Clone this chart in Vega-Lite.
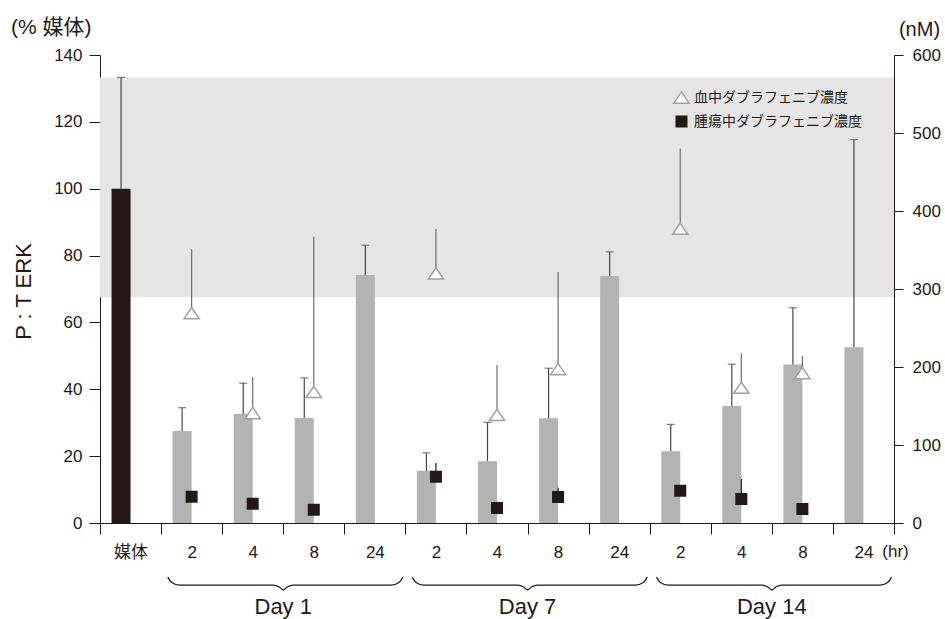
{
  "$schema": "https://vega.github.io/schema/vega-lite/v6.json",
  "width": 794,
  "height": 468,
  "autosize": {"type": "none"},
  "padding": {"left": 100, "top": 55, "right": 51, "bottom": 96},
  "background": "white",
  "title": {
    "text": "(% 媒体)",
    "anchor": "start",
    "frame": "group",
    "dx": -89,
    "dy": 37,
    "offset": 18,
    "fontSize": 21,
    "fontWeight": "normal",
    "color": "#231815"
  },
  "config": {
    "font": "Liberation Sans, Noto Sans CJK JP",
    "view": {"stroke": null},
    "axis": {
      "zindex": 1,
      "grid": false,
      "domainColor": "#231815",
      "tickColor": "#231815",
      "labelColor": "#231815",
      "titleColor": "#231815",
      "domainWidth": 1,
      "tickWidth": 1,
      "labelFontSize": 17,
      "titleFontWeight": "normal"
    },
    "legend": {
      "padding": 0,
      "rowPadding": 6,
      "labelOffset": 4,
      "labelLimit": 400,
      "labelFont": "Noto Sans CJK JP",
      "labelFontSize": 14,
      "labelColor": "#231815",
      "symbolStrokeWidth": 1.5,
      "symbolSize": 232
    }
  },
  "datasets": {
    "ptErk": [
      {"idx": 0, "cond": "媒体", "mean": 100, "upper": 133.3},
      {"idx": 1, "cond": "Day 1 2hr", "mean": 27.5, "upper": 34.5},
      {"idx": 2, "cond": "Day 1 4hr", "mean": 32.6, "upper": 41.8},
      {"idx": 3, "cond": "Day 1 8hr", "mean": 31.4, "upper": 43.4},
      {"idx": 4, "cond": "Day 1 24hr", "mean": 74.2, "upper": 83.1},
      {"idx": 5, "cond": "Day 7 2hr", "mean": 15.6, "upper": 21.0},
      {"idx": 6, "cond": "Day 7 4hr", "mean": 18.5, "upper": 30.1},
      {"idx": 7, "cond": "Day 7 8hr", "mean": 31.3, "upper": 46.3},
      {"idx": 8, "cond": "Day 7 24hr", "mean": 73.9, "upper": 81.1},
      {"idx": 9, "cond": "Day 14 2hr", "mean": 21.5, "upper": 29.5},
      {"idx": 10, "cond": "Day 14 4hr", "mean": 35.0, "upper": 47.5},
      {"idx": 11, "cond": "Day 14 8hr", "mean": 47.4, "upper": 64.4},
      {"idx": 12, "cond": "Day 14 24hr", "mean": 52.6, "upper": 114.7}
    ],
    "vehicleRange": [
      {"lo": 67.5, "hi": 133.3}
    ],
    "conc": [
      {"idx": 1, "series": "血中ダブラフェニブ濃度", "value": 269, "upper": 351},
      {"idx": 2, "series": "血中ダブラフェニブ濃度", "value": 141, "upper": 187},
      {"idx": 3, "series": "血中ダブラフェニブ濃度", "value": 168, "upper": 367},
      {"idx": 5, "series": "血中ダブラフェニブ濃度", "value": 320, "upper": 377},
      {"idx": 6, "series": "血中ダブラフェニブ濃度", "value": 138.5, "upper": 202.6},
      {"idx": 7, "series": "血中ダブラフェニブ濃度", "value": 197.4, "upper": 321.8},
      {"idx": 9, "series": "血中ダブラフェニブ濃度", "value": 377.3, "upper": 480},
      {"idx": 10, "series": "血中ダブラフェニブ濃度", "value": 173.5, "upper": 217.5},
      {"idx": 11, "series": "血中ダブラフェニブ濃度", "value": 192.3, "upper": 214},
      {"idx": 1, "series": "腫瘍中ダブラフェニブ濃度", "value": 33.7, "upper": null},
      {"idx": 2, "series": "腫瘍中ダブラフェニブ濃度", "value": 24.8, "upper": null},
      {"idx": 3, "series": "腫瘍中ダブラフェニブ濃度", "value": 17.1, "upper": null},
      {"idx": 5, "series": "腫瘍中ダブラフェニブ濃度", "value": 59.4, "upper": 76.9},
      {"idx": 6, "series": "腫瘍中ダブラフェニブ濃度", "value": 19.2, "upper": null},
      {"idx": 7, "series": "腫瘍中ダブラフェニブ濃度", "value": 33.3, "upper": 45.3},
      {"idx": 9, "series": "腫瘍中ダブラフェニブ濃度", "value": 41.4, "upper": null},
      {"idx": 10, "series": "腫瘍中ダブラフェニブ濃度", "value": 30.8, "upper": 56.4},
      {"idx": 11, "series": "腫瘍中ダブラフェニブ濃度", "value": 17.9, "upper": null}
    ],
    "braces": [
      {"day": "Day 1", "bx": 1.11, "by": -16.2},
      {"day": "Day 1", "bx": 1.175, "by": -17.8},
      {"day": "Day 1", "bx": 1.305, "by": -18.6},
      {"day": "Day 1", "bx": 2.836, "by": -18.6},
      {"day": "Day 1", "bx": 2.935, "by": -19.15},
      {"day": "Day 1", "bx": 3, "by": -20.05},
      {"day": "Day 1", "bx": 3.065, "by": -19.15},
      {"day": "Day 1", "bx": 3.164, "by": -18.6},
      {"day": "Day 1", "bx": 4.765, "by": -18.6},
      {"day": "Day 1", "bx": 4.895, "by": -17.8},
      {"day": "Day 1", "bx": 4.96, "by": -16.2},
      {"day": "Day 7", "bx": 5.11, "by": -16.2},
      {"day": "Day 7", "bx": 5.175, "by": -17.8},
      {"day": "Day 7", "bx": 5.305, "by": -18.6},
      {"day": "Day 7", "bx": 6.836, "by": -18.6},
      {"day": "Day 7", "bx": 6.935, "by": -19.15},
      {"day": "Day 7", "bx": 7, "by": -20.05},
      {"day": "Day 7", "bx": 7.065, "by": -19.15},
      {"day": "Day 7", "bx": 7.164, "by": -18.6},
      {"day": "Day 7", "bx": 8.765, "by": -18.6},
      {"day": "Day 7", "bx": 8.895, "by": -17.8},
      {"day": "Day 7", "bx": 8.96, "by": -16.2},
      {"day": "Day 14", "bx": 9.11, "by": -16.2},
      {"day": "Day 14", "bx": 9.175, "by": -17.8},
      {"day": "Day 14", "bx": 9.305, "by": -18.6},
      {"day": "Day 14", "bx": 10.836, "by": -18.6},
      {"day": "Day 14", "bx": 10.935, "by": -19.15},
      {"day": "Day 14", "bx": 11, "by": -20.05},
      {"day": "Day 14", "bx": 11.065, "by": -19.15},
      {"day": "Day 14", "bx": 11.164, "by": -18.6},
      {"day": "Day 14", "bx": 12.765, "by": -18.6},
      {"day": "Day 14", "bx": 12.895, "by": -17.8},
      {"day": "Day 14", "bx": 12.96, "by": -16.2}
    ],
    "days": [
      {"day": "Day 1", "mid": 3, "ty": -25},
      {"day": "Day 7", "mid": 7, "ty": -25},
      {"day": "Day 14", "mid": 11, "ty": -25}
    ]
  },
  "resolve": {"scale": {"y": "independent"}},
  "layer": [
    {
      "data": {"name": "vehicleRange"},
      "mark": {"type": "rect", "color": "#e5e5e5"},
      "encoding": {
        "x": {"datum": 0, "type": "quantitative"},
        "x2": {"datum": 13},
        "y": {"field": "lo", "type": "quantitative", "scale": {"domain": [0, 140], "nice": false, "padding": 0}, "axis": null},
        "y2": {"field": "hi"}
      }
    },
    {
      "data": {"name": "braces"},
      "mark": {"type": "line", "interpolate": "monotone", "color": "#231815", "strokeWidth": 1.3},
      "encoding": {
        "x": {"field": "bx", "type": "quantitative"},
        "y": {"field": "by", "type": "quantitative", "scale": {"domain": [0, 140], "nice": false, "padding": 0}, "axis": null},
        "detail": {"field": "day", "type": "nominal"}
      }
    },
    {
      "data": {"name": "days"},
      "mark": {"type": "text", "fontSize": 22, "color": "#231815", "baseline": "middle", "align": "center"},
      "encoding": {
        "x": {"field": "mid", "type": "quantitative"},
        "y": {"field": "ty", "type": "quantitative", "scale": {"domain": [0, 140], "nice": false, "padding": 0}, "axis": null},
        "text": {"field": "day", "type": "nominal"}
      }
    },
    {
      "data": {"name": "ptErk"},
      "mark": {"type": "bar", "width": 19, "xOffset": 21.04},
      "encoding": {
        "x": {
          "field": "idx", "type": "quantitative",
          "scale": {"domain": [0, 13], "nice": false, "zero": false, "padding": 0},
          "axis": {
            "values": [0, 1, 2, 3, 4, 5, 6, 7, 8, 9, 10, 11, 12, 13],
            "tickSize": 11,
            "labelOffset": 30.54,
            "labelPadding": 10,
            "labelAngle": 0,
            "labelExpr": "['媒体', '2', '4', '8', '24', '2', '4', '8', '24', '2', '4', '8', '24', ''][datum.value]",
            "labelFlush": false,
            "labelOverlap": false,
            "labelBound": false,
            "title": "(hr)",
            "titleFontSize": 17,
            "titleX": 795,
            "titleY": 28.5,
            "titleAlign": "center",
            "titleBaseline": "middle"
          }
        },
        "y": {
          "field": "mean", "type": "quantitative",
          "scale": {"domain": [0, 140], "nice": false, "padding": 0},
          "axis": {
            "values": [0, 20, 40, 60, 80, 100, 120, 140],
            "tickSize": 11,
            "labelPadding": 7,
            "titleFontSize": 22,
            "titleAngle": -90,
            "titleX": -77,
            "titleY": 236,
            "titleAlign": "center",
            "titleBaseline": "middle"
          },
          "title": "P : T ERK"
        },
        "color": {
          "condition": {"test": "datum.idx === 0", "value": "#231815"},
          "value": "#b3b3b3"
        }
      }
    },
    {
      "data": {"name": "ptErk"},
      "mark": {"type": "rule", "xOffset": 21.04, "color": "#4a4545", "strokeWidth": 1.2},
      "encoding": {
        "x": {"field": "idx", "type": "quantitative"},
        "y": {"field": "mean", "type": "quantitative", "scale": {"domain": [0, 140], "nice": false, "padding": 0}, "axis": null},
        "y2": {"field": "upper"}
      }
    },
    {
      "data": {"name": "ptErk"},
      "mark": {"type": "tick", "orient": "horizontal", "size": 8, "thickness": 1.2, "xOffset": 21.04, "color": "#4a4545"},
      "encoding": {
        "x": {"field": "idx", "type": "quantitative"},
        "y": {"field": "upper", "type": "quantitative", "scale": {"domain": [0, 140], "nice": false, "padding": 0}, "axis": null}
      }
    },
    {
      "data": {"name": "conc"},
      "transform": [{"filter": "isValid(datum.upper) && datum.series === '血中ダブラフェニブ濃度'"}],
      "mark": {"type": "rule", "color": "#6e6a6a", "strokeWidth": 1.2, "xOffset": 30.54},
      "encoding": {
        "x": {"field": "idx", "type": "quantitative"},
        "y": {"field": "value", "type": "quantitative", "scale": {"domain": [0, 600], "nice": false, "padding": 0}, "axis": null},
        "y2": {"field": "upper"}
      }
    },
    {
      "data": {"name": "conc"},
      "transform": [{"filter": "isValid(datum.upper) && datum.series === '腫瘍中ダブラフェニブ濃度'"}],
      "mark": {"type": "rule", "color": "#231815", "strokeWidth": 1.2, "xOffset": 30.54},
      "encoding": {
        "x": {"field": "idx", "type": "quantitative"},
        "y": {"field": "value", "type": "quantitative", "scale": {"domain": [0, 600], "nice": false, "padding": 0}, "axis": null},
        "y2": {"field": "upper"}
      }
    },
    {
      "data": {"name": "conc"},
      "mark": {"type": "point", "strokeWidth": 1.5, "opacity": 1, "size": 232, "xOffset": 30.54},
      "encoding": {
        "x": {"field": "idx", "type": "quantitative"},
        "y": {
          "field": "value", "type": "quantitative",
          "scale": {"domain": [0, 600], "nice": false, "padding": 0},
          "axis": {
            "orient": "right",
            "values": [0, 100, 200, 300, 400, 500, 600],
            "tickSize": 9,
            "labelPadding": 9,
            "titleFontSize": 20,
            "titleAngle": 0,
            "titleX": 25,
            "titleY": -26,
            "titleAlign": "center",
            "titleBaseline": "middle"
          },
          "title": "(nM)"
        },
        "shape": {
          "field": "series", "type": "nominal",
          "scale": {"domain": ["血中ダブラフェニブ濃度", "腫瘍中ダブラフェニブ濃度"], "range": ["M0,-0.74L1,0.74L-1,0.74Z", "M-0.69,-0.69H0.69V0.69H-0.69Z"]},
          "legend": {"title": null, "orient": "none", "legendX": 573, "legendY": 34}
        },
        "fill": {
          "field": "series", "type": "nominal",
          "scale": {"domain": ["血中ダブラフェニブ濃度", "腫瘍中ダブラフェニブ濃度"], "range": ["#ffffff", "#231815"]},
          "legend": {"title": null, "orient": "none", "legendX": 573, "legendY": 34}
        },
        "stroke": {
          "field": "series", "type": "nominal",
          "scale": {"domain": ["血中ダブラフェニブ濃度", "腫瘍中ダブラフェニブ濃度"], "range": ["#a0a0a0", "#231815"]},
          "legend": {"title": null, "orient": "none", "legendX": 573, "legendY": 34}
        }
      }
    }
  ]
}
